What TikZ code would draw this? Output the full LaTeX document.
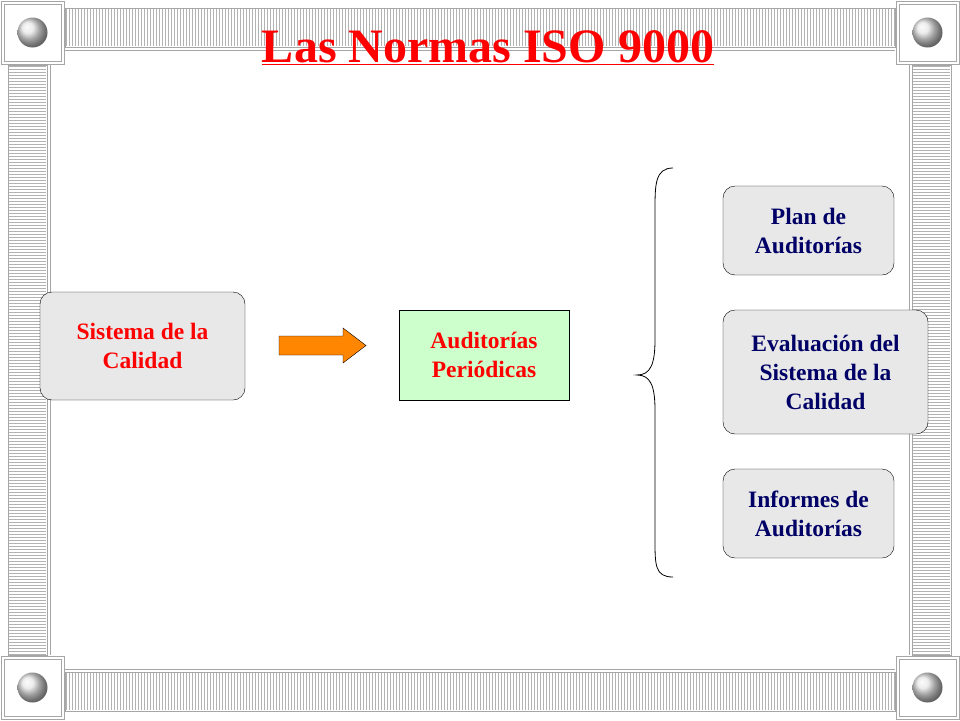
\documentclass[tikz,border=0pt]{standalone}
\usepackage{fontspec}
\setmainfont{Liberation Serif}
\begin{document}
\begin{tikzpicture}[x=1pt,y=-1pt,
  rbox/.style={draw,rounded corners=12pt,fill=gray!18,align=center,font=\bfseries\fontsize{23.5}{29}\selectfont,inner sep=0pt},
  bar/.style={draw=gray!70,fill=white,line width=1pt},
  stripe/.style={gray!60,line width=0.8pt}]
\useasboundingbox (0,0) rectangle (960,720);
\fill[white] (0,0) rectangle (960,720);
% bars
\foreach \x in {66,69,...,894} {\draw[stripe] (\x,9) -- (\x,46); \draw[stripe] (\x,673) -- (\x,710);}
\foreach \y in {66,69,...,654} {\draw[stripe] (9,\y) -- (46,\y); \draw[stripe] (913,\y) -- (950,\y);}
\draw[gray!70,line width=1pt] (65,8) rectangle (895,47) (65,672) rectangle (895,711) (8,65) rectangle (47,655) (912,65) rectangle (951,655);
\draw[gray!70,line width=1pt] (65,50) -- (895,50) (65,669) -- (895,669) (50,65) -- (50,655) (909,65) -- (909,655);
% corners
\foreach \cx/\cy [count=\i] in {0/0,895/0,0/655,895/655} {
  \draw[bar] (\cx+1,\cy+1) rectangle +(63,63);
  \draw[gray!70,line width=1pt] (\cx+4,\cy+4) rectangle +(57,57);
  \shade[ball color=white!80!gray] (\cx+32.5,\cy+32.5) circle (15);
}
\node[text=red,font=\bfseries\fontsize{48}{52}\selectfont] (title) at (488,48) {\underline{Las Normas ISO 9000}};
\node[rbox,text=red,minimum width=205pt,minimum height=108pt] (sc) at (142.5,346) {Sistema de la\\Calidad};
\draw[fill=orange!95!yellow] (279,336) -- (343,336) -- (343,328) -- (366,345.5) -- (343,363) -- (343,355) -- (279,355) -- cycle;
\node[draw,fill=green!20,text=red,align=center,font=\bfseries\fontsize{23.5}{29}\selectfont,minimum width=170pt,minimum height=90pt] (ap) at (484,355) {Auditorías\\Periódicas};
\draw[line width=0.8pt] (673,168) .. controls (655,168) and (655,185) .. (655,210) -- (655,340) .. controls (655,365) and (650,375) .. (637,375) .. controls (650,375) and (655,385) .. (655,410) -- (655,540) .. controls (655,565) and (655,577) .. (673,577);
\node[rbox,text=blue!40!black,minimum width=171pt,minimum height=89pt] (pa) at (808.5,230.5) {Plan de\\Auditorías};
\node[rbox,text=blue!40!black,minimum width=205pt,minimum height=124pt] (ev) at (825.5,372) {Evaluación del\\Sistema de la\\Calidad};
\node[rbox,text=blue!40!black,minimum width=171pt,minimum height=89pt] (ia) at (808.5,513.5) {Informes de\\Auditorías};
\end{tikzpicture}
\end{document}
